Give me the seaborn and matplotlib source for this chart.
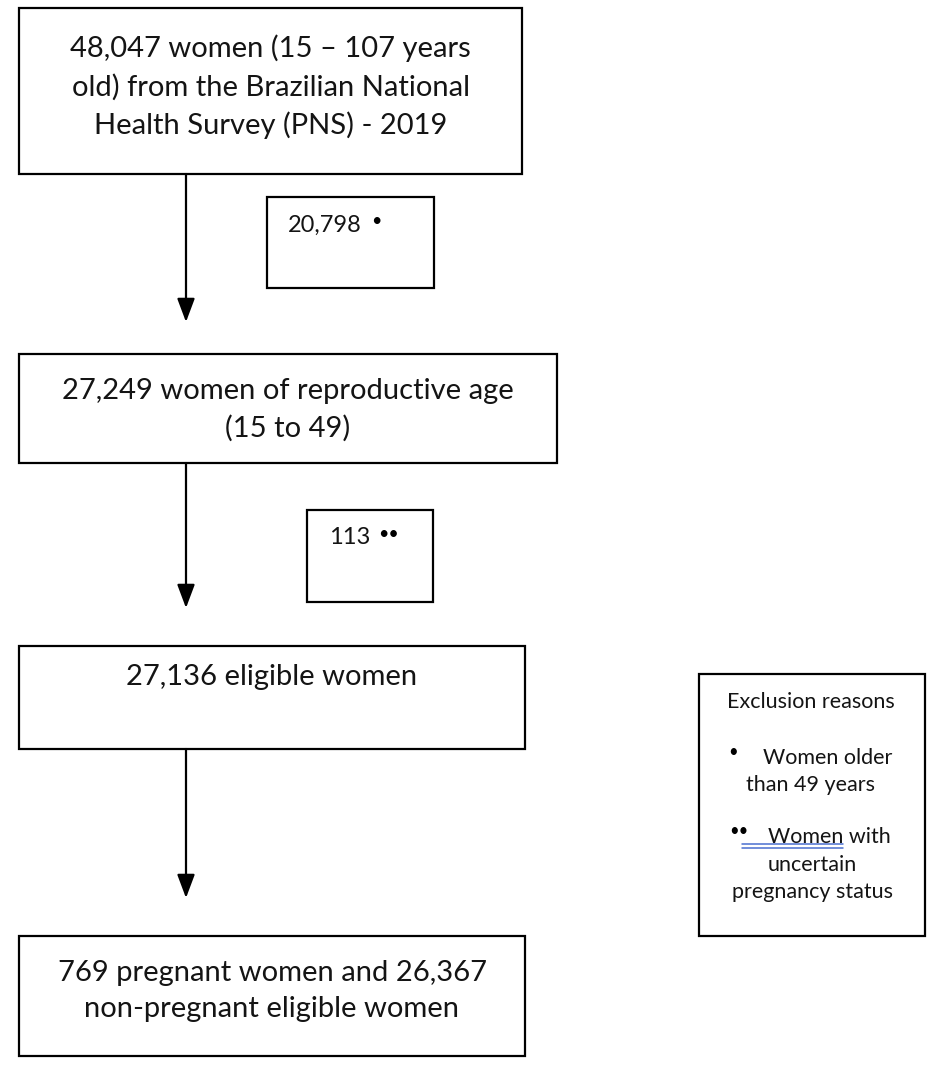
import matplotlib.pyplot as plt
import seaborn as sns
from matplotlib.patches import Rectangle

# datos del diagrama de flujo
total_women = 48047
excluded_older = 20798
reproductive_age = 27249
excluded_uncertain = 113
eligible_women = 27136
pregnant_women = 769
non_pregnant = 26367

main_labels = [
    f"{total_women:,} women (15 \u2013 107 years\nold) from the Brazilian National\nHealth Survey (PNS) - 2019",
    f"{reproductive_age:,} women of reproductive age\n(15 to 49)",
    f"{eligible_women:,} eligible women",
    f"{pregnant_women:,} pregnant women and {non_pregnant:,}\nnon-pregnant eligible women",
]
excl_labels = [f"{excluded_older:,}", f"{excluded_uncertain:,}"]
excl_marks = ["\u2022", "\u2022\u2022"]
legend_title = "Exclusion reasons"
legend_lines = [["Women older", "than 49 years"],
                ["Women with", "uncertain", "pregnancy status"]]

sns.set_theme(style="white")
plt.rcParams['font.family'] = ['Lato', 'DejaVu Sans']

fig = plt.figure(figsize=(9.35, 10.78), dpi=100)
ax = fig.add_axes([0, 0, 1, 1])
ax.set_xlim(0, 935)
ax.set_ylim(1078, 0)
ax.axis('off')

txt_color = '#141414'

# cajas principales (x0, y0, x1, y1) en pixeles
main_boxes = [(19, 8, 522, 174), (19, 354, 557, 463), (19, 646, 525, 749), (19, 936, 525, 1056)]
text_y = [87, 410, 677, 991]
for (x0, y0, x1, y1), lab, ty in zip(main_boxes, main_labels, text_y):
    ax.add_patch(Rectangle((x0, y0), x1 - x0, y1 - y0, fill=False, ec='black', lw=1.6))
    ax.text((x0 + x1) / 2, ty, lab, ha='center', va='center', fontsize=21,
            linespacing=1.5, color=txt_color)

# flechas
arrow_tips = [322, 608, 898]
for i in range(3):
    ax.annotate('', xy=(186, arrow_tips[i]), xytext=(186, main_boxes[i][3]),
                arrowprops=dict(arrowstyle='-|>,head_length=1.2,head_width=0.45',
                                color='black', lw=1.6, shrinkA=0, shrinkB=0))

# cajas de exclusion
excl_boxes = [(267, 197, 434, 288), (307, 510, 433, 602)]
excl_text_pos = [(288, 225), (329, 538)]
mark_pos = [(376, 221), (388, 534)]
for (x0, y0, x1, y1), lab, mk, tp, mp in zip(excl_boxes, excl_labels, excl_marks, excl_text_pos, mark_pos):
    ax.add_patch(Rectangle((x0, y0), x1 - x0, y1 - y0, fill=False, ec='black', lw=1.6))
    ax.text(tp[0], tp[1], lab, ha='left', va='center', fontsize=17, color=txt_color)
    ax.text(mp[0], mp[1], mk, ha='center', va='center', fontsize=13, color='black')

# leyenda
ax.add_patch(Rectangle((699, 674), 226, 262, fill=False, ec='black', lw=1.6))
ax.text(811, 702, legend_title, ha='center', va='center', fontsize=15.5, color=txt_color)
leg_x = [[828, 811], [829, 812, 812]]
leg_y = [[758, 785], [837, 865, 892]]
for lines, xs, ys in zip(legend_lines, leg_x, leg_y):
    for s, lx, ly in zip(lines, xs, ys):
        ax.text(lx, ly, s, ha='center', va='center', fontsize=15.5, color=txt_color)
ax.text(733, 752, excl_marks[0], ha='center', va='center', fontsize=12, color='black')
ax.text(739, 831, excl_marks[1], ha='center', va='center', fontsize=12, color='black')
# subrayado del corrector ortografico
ax.plot([742, 843], [844, 844], color='#4a6fd0', lw=1.1)
ax.plot([742, 843], [848, 848], color='#4a6fd0', lw=1.1)

fig.savefig('out.png', dpi=100, facecolor='white')
